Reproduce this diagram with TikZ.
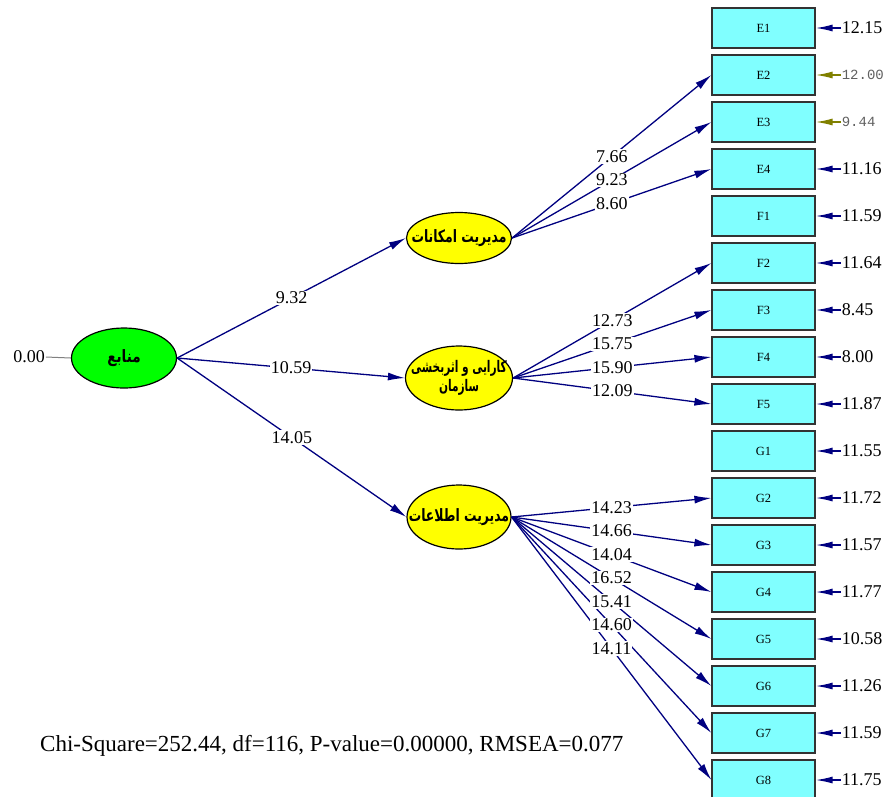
\documentclass[tikz,border=0pt]{standalone}
\usepackage{graphicx}
\usepackage{fontspec}
\setmainfont{Liberation Serif}
\newfontfamily\fa[Script=Arabic]{DejaVu Sans}
\newfontfamily\monof{Liberation Mono}
\TeXXeTstate=1
\usetikzlibrary{arrows.meta,shapes.geometric}
\definecolor{navyc}{HTML}{000080}
\definecolor{olivec}{HTML}{808000}
\definecolor{boxcyan}{HTML}{80FFFF}
\definecolor{latgreen}{HTML}{00FF00}
\definecolor{latyellow}{HTML}{FFFF00}
\definecolor{monogray}{HTML}{606060}
\tikzset{
  lat/.style={ellipse, draw=black, line width=1.2pt, inner sep=0pt},
  lattext/.style={inner sep=0pt, align=center, font=\fa\bfseries\fontsize{17}{19}\selectfont},
  obs/.style={rectangle, draw=black!80, line width=1.2pt, fill=boxcyan,
    minimum width=103pt, minimum height=40pt, inner sep=0pt,
    font=\fontsize{12.5}{12.5}\selectfont},
  pathc/.style={draw=navyc, line width=1.3pt, -{Latex[length=17pt,width=8pt]}},
  errc/.style={draw=navyc, line width=1.5pt, -{Latex[length=17pt,width=7pt]}},
  errol/.style={draw=olivec, line width=1.5pt, -{Latex[length=17pt,width=7pt]}},
  lbl/.style={fill=white, inner sep=1pt, font=\fontsize{18}{18}\selectfont},
  elbl/.style={anchor=west, inner sep=1pt, font=\fontsize{18}{18}\selectfont},
  mlbl/.style={anchor=west, inner sep=1pt, text=monogray, font=\monof\fontsize{14}{14}\selectfont},
}
\begin{document}
\begin{tikzpicture}[x=1pt,y=-1pt]
\useasboundingbox (0,0) rectangle (888,796);
% boxes
\foreach \n [count=\i from 0] in {E1,E2,E3,E4,F1,F2,F3,F4,F5,G1,G2,G3,G4,G5,G6,G7,G8}{
  \node[obs] (\n) at (763.5,{28+47*\i}) {\n};
}
% latent variables
\node[lat, fill=latgreen, minimum width=105pt, minimum height=60pt] (mn) at (124,358) {};
\node[lattext] (mnT) at (mn.center) {\scalebox{0.8}[1]{\beginR منابع\endR}};
\node[lat, fill=latyellow, minimum width=105pt, minimum height=51pt] (m1) at (459,238) {};
\node[lattext] (m1T) at (m1.center) {\scalebox{0.73}[1]{\beginR مدیریت امکانات\endR}};
\node[lat, fill=latyellow, minimum width=107pt, minimum height=64pt] (m2) at (459,378) {};
\node[lattext, font=\fa\bfseries\fontsize{16}{19}\selectfont] (m2T) at (m2.center) {\scalebox{0.66}[1]{\beginR کارایی و اثربخشی\endR}\\\scalebox{0.66}[1]{\beginR سازمان\endR}};
\node[lat, fill=latyellow, minimum width=104pt, minimum height=64pt] (m3) at (459,517) {};
\node[lattext] (m3T) at (m3.center) {\scalebox{0.73}[1]{\beginR مدیریت اطلاعات\endR}};
% 0.00
\node[inner sep=1pt, font=\fontsize{18}{18}\selectfont] (z) at (29,357) {0.00};
\draw[gray, line width=1pt] (z.east) -- (mn.west);
% structural paths
\draw[pathc] (mn.east) -- (m1.west);
\draw[pathc] (mn.east) -- (m2.west);
\draw[pathc] (mn.east) -- (m3.west);
% measurement paths
\foreach \t in {E2,E3,E4}{\draw[pathc] (m1.east) -- (\t.west);}
\foreach \t in {F2,F3,F4,F5}{\draw[pathc] (m2.east) -- (\t.west);}
\foreach \t in {G2,G3,G4,G5,G6,G7,G8}{\draw[pathc] (m3.east) -- (\t.west);}
% labels on paths
\path (mn.east) -- (m1.west) node[lbl,pos=0.5] {9.32};
\path (mn.east) -- (m2.west) node[lbl,pos=0.5] {10.59};
\path (mn.east) -- (m3.west) node[lbl,pos=0.5] {14.05};
\foreach \t/\v in {E2/7.66,E3/9.23,E4/8.60}{\path (m1.east) -- (\t.west) node[lbl,pos=0.5] {\v};}
\foreach \t/\v in {F2/12.73,F3/15.75,F4/15.90,F5/12.09}{\path (m2.east) -- (\t.west) node[lbl,pos=0.5] {\v};}
\foreach \t/\v in {G2/14.23,G3/14.66,G4/14.04,G5/16.52,G6/15.41,G7/14.60,G8/14.11}{\path (m3.east) -- (\t.west) node[lbl,pos=0.5] {\v};}
% error terms
\foreach \t/\v in {E1/12.15,E4/11.16,F1/11.59,F2/11.64,F3/8.45,F4/8.00,F5/11.87,G1/11.55,G2/11.72,G3/11.57,G4/11.77,G5/10.58,G6/11.26,G7/11.59,G8/11.75}{
  \node[elbl] (e\t) at ([xshift=25pt]\t.east) {\v};
  \draw[errc] (e\t.west) -- (\t.east);
}
\foreach \t/\v in {E2/12.00,E3/9.44}{
  \node[mlbl] (e\t) at ([xshift=25pt]\t.east) {\v};
  \draw[errol] (e\t.west) -- (\t.east);
}
% fit statistics
\node[anchor=west, inner sep=0pt, font=\fontsize{23}{23}\selectfont] (fit) at (40,746) {Chi-Square=252.44, df=116, P-value=0.00000, RMSEA=0.077};
\end{tikzpicture}
\end{document}
